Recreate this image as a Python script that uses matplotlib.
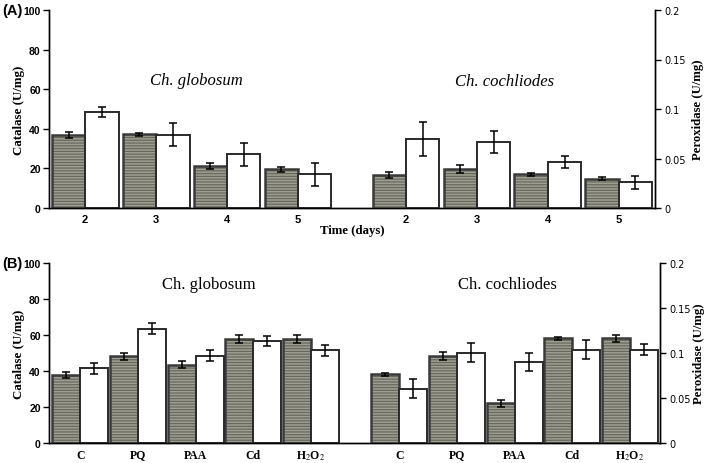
import matplotlib
matplotlib.use("Agg")
import matplotlib.pyplot as plt
import numpy as np

plt.rcParams['mathtext.fontset'] = 'stix'
plt.rcParams['hatch.linewidth'] = 0.9

# ---------------- data ----------------
days = ["2", "3", "4", "5"]
treatments = ["C", "PQ", "PAA", "Cd", r"H$_2$O$_2$"]

# Panel A - time course (Ch. globosum on left axis, Ch. cochliodes on right axis)
a_glob_cat = [36.9, 37.2, 21.4, 19.5]
a_glob_cat_err = [1.3, 0.8, 1.5, 1.1]
a_glob_per = [48.3, 37.0, 27.1, 17.0]
a_glob_per_err = [2.5, 5.7, 5.7, 5.9]
a_coch_cat = [0.0334, 0.0395, 0.0341, 0.0297]
a_coch_cat_err = [0.0029, 0.0044, 0.0017, 0.0019]
a_coch_per = [0.0699, 0.0666, 0.046, 0.026]
a_coch_per_err = [0.017, 0.0115, 0.0061, 0.0064]

# Panel B - treatments
b_glob_cat = [37.9, 48.1, 43.6, 57.9, 57.9]
b_glob_cat_err = [1.8, 2.0, 1.8, 2.1, 2.1]
b_glob_per = [41.6, 63.4, 48.4, 56.7, 51.6]
b_glob_per_err = [3.0, 3.0, 3.1, 2.8, 3.0]
b_coch_cat = [0.0763, 0.0967, 0.0441, 0.1163, 0.1163]
b_coch_cat_err = [0.002, 0.0041, 0.0039, 0.0019, 0.0041]
b_coch_per = [0.0604, 0.1004, 0.09, 0.1037, 0.1037]
b_coch_per_err = [0.0104, 0.0104, 0.0102, 0.0107, 0.0059]

W, H = 709, 464
fig = plt.figure(figsize=(W / 100, H / 100), dpi=100)

GRAY_FACE = '#9e9e90'
GRAY_HATCH = '#68685f'
EDGE = '#2a2a2a'

from matplotlib.font_manager import FontProperties
left_tick_fp = FontProperties(family='Liberation Sans', weight='bold', size=7.5)


def bars(ax, x, vals, errs, width, gray):
    if gray:
        ax.bar(x, vals, width, color=GRAY_FACE, hatch='------', edgecolor=GRAY_HATCH,
               linewidth=0, zorder=2)
        ax.bar(x, vals, width, fill=False, edgecolor='#3a3a3a', linewidth=1.8, zorder=3)
    else:
        ax.bar(x, vals, width, color='white', edgecolor=EDGE, linewidth=1.4, zorder=3)
    ax.errorbar(x, vals, yerr=errs, fmt='none', ecolor='black', elinewidth=1.1,
                capsize=3, capthick=1.1, zorder=4)


def style(ax, ax2, xlim):
    ax.set_xlim(*xlim)
    ax.set_ylim(0, 100)
    ax2.set_ylim(0, 0.2)
    ax.set_yticks([0, 20, 40, 60, 80, 100])
    ax2.set_yticks([0, 0.05, 0.1, 0.15, 0.2])
    ax2.set_yticklabels(["0", "0.05", "0.1", "0.15", "0.2"], family='DejaVu Sans', fontsize=7)
    for lab in ax.get_yticklabels():
        lab.set_fontproperties(left_tick_fp)
    for a in (ax, ax2):
        a.spines['top'].set_visible(False)
        for s in ('left', 'right', 'bottom'):
            a.spines[s].set_linewidth(1.0)
    ax.tick_params(axis='y', length=4, width=1, pad=2)
    ax2.tick_params(axis='y', length=4, width=1, pad=3)
    ax.tick_params(axis='x', length=0, pad=4)


# ---------------- Panel A ----------------
axA = fig.add_axes([49 / W, 1 - 209 / H, (655 - 49) / W, (209 - 11) / H])
axA2 = axA.twinx()
xl = np.arange(len(days)) + 0.51
xr = np.arange(len(days)) + 5.03
wA = 0.47
bars(axA, xl - wA / 2, a_glob_cat, a_glob_cat_err, wA, True)
bars(axA, xl + wA / 2, a_glob_per, a_glob_per_err, wA, False)
bars(axA2, xr - wA / 2, a_coch_cat, a_coch_cat_err, wA, True)
bars(axA2, xr + wA / 2, a_coch_per, a_coch_per_err, wA, False)
style(axA, axA2, (0, 8.54))
axA.set_xticks(list(xl) + list(xr))
axA.set_xticklabels(days + days, family='Liberation Sans', weight='bold', fontsize=8)
axA.set_ylabel("Catalase (U/mg)", family='Liberation Serif', weight='bold', fontsize=9.3)
axA.yaxis.set_label_coords((25 - 49) / 606, 0.5)
axA2.set_ylabel("Peroxidase (U/mg)", family='Liberation Serif', weight='bold', fontsize=9.2)
axA2.yaxis.set_label_coords((692 - 49) / 606, 0.5)
axA.text(0.243, 0.645, "Ch. globosum", transform=axA.transAxes, ha='center', va='center',
         family='Liberation Serif', style='italic', fontsize=12)
axA.text(0.752, 0.64, "Ch. cochliodes", transform=axA.transAxes, ha='center', va='center',
         family='Liberation Serif', style='italic', fontsize=12)
fig.text(352 / W, 1 - 231 / H, "Time (days)", ha='center', va='center',
         family='Liberation Serif', weight='bold', fontsize=9.2)
fig.text(2 / W, 1 - 11 / H, "(A)", ha='left', va='center', family='Liberation Sans',
         weight='bold', fontsize=10.5)

# ---------------- Panel B ----------------
axB = fig.add_axes([49 / W, 1 - 444 / H, (660 - 49) / W, (444 - 264) / H])
axB2 = axB.twinx()
xlb = np.arange(len(treatments)) + 0.54
xrb = np.arange(len(treatments)) + 6.07
wB = 0.485
bars(axB, xlb - wB / 2, b_glob_cat, b_glob_cat_err, wB, True)
bars(axB, xlb + wB / 2, b_glob_per, b_glob_per_err, wB, False)
bars(axB2, xrb - wB / 2, b_coch_cat, b_coch_cat_err, wB, True)
bars(axB2, xrb + wB / 2, b_coch_per, b_coch_per_err, wB, False)
style(axB, axB2, (0, 10.59))
axB.set_xticks(list(xlb) + list(xrb))
axB.set_xticklabels(treatments + treatments, family='Liberation Serif', weight='bold', fontsize=8.5)
axB.tick_params(axis='x', pad=4)
axB.set_ylabel("Catalase (U/mg)", family='Liberation Serif', weight='bold', fontsize=9.3)
axB.yaxis.set_label_coords((25 - 49) / 611, 0.5)
axB2.set_ylabel("Peroxidase (U/mg)", family='Liberation Serif', weight='bold', fontsize=9.2)
axB2.yaxis.set_label_coords((693 - 49) / 611, 0.5)
axB.text(0.261, 0.885, "Ch. globosum", transform=axB.transAxes, ha='center', va='center',
         family='Liberation Serif', fontsize=12)
axB.text(0.75, 0.885, "Ch. cochliodes", transform=axB.transAxes, ha='center', va='center',
         family='Liberation Serif', fontsize=12)
fig.text(2 / W, 1 - 264 / H, "(B)", ha='left', va='center', family='Liberation Sans',
         weight='bold', fontsize=10.5)

fig.savefig("out.png", dpi=100)
